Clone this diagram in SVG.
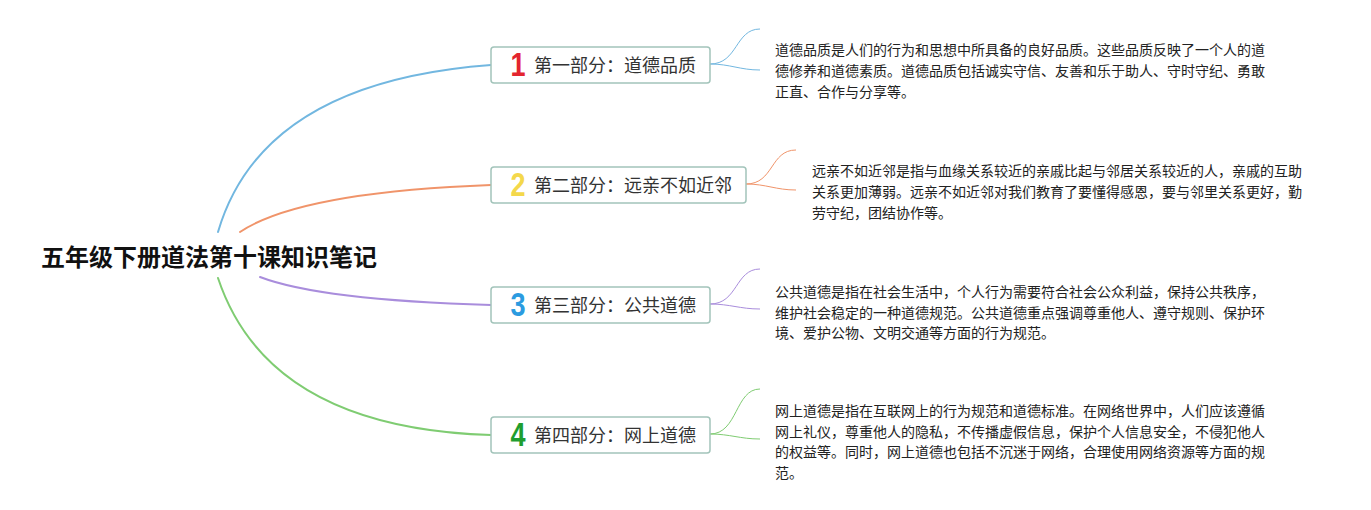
<svg xmlns="http://www.w3.org/2000/svg" width="1371" height="510" viewBox="0 0 1371 510">
<style>
.root{font-family:"Noto Sans CJK SC","Noto Sans",sans-serif;font-weight:700;font-size:24px;fill:#111}
.box{fill:#fff;stroke:#a2c4ba;stroke-width:1.5}
.lbl{font-family:"Noto Sans CJK SC","Noto Sans",sans-serif;font-size:18px;fill:#333}
.num{font-family:"Liberation Sans",Arial,sans-serif;font-weight:700;font-size:33px;text-anchor:middle}
.desc{font-family:"Noto Sans CJK SC","Noto Sans",sans-serif;font-size:14px;fill:#222}
.main{fill:none;stroke-width:2;stroke-linecap:round}
.thin{fill:none;stroke-width:1}
</style>
<rect width="1371" height="510" fill="#fff"/>
<g id="connectors">
<path class="main" stroke="#72b7e0" d="M218,232 Q262,82 491,65"/>
<path class="main" stroke="#f0946a" d="M240,232 Q300,192 491,185"/>
<path class="main" stroke="#a98ddc" d="M260,277 Q320,300 491,305"/>
<path class="main" stroke="#7fcc72" d="M218,278 Q268,428 491,435"/>
<path class="thin" stroke="#72b7e0" d="M710,64 C738,64 735,29 760,29"/>
<path class="thin" stroke="#72b7e0" d="M710,64 C730,64 740,70 760,70"/>
<path class="thin" stroke="#f0946a" d="M746,184 C774,184 770,150 796,150"/>
<path class="thin" stroke="#f0946a" d="M746,184 C766,184 776,190 796,190"/>
<path class="thin" stroke="#a98ddc" d="M710,304 C738,304 735,269 760,269"/>
<path class="thin" stroke="#a98ddc" d="M710,304 C730,304 740,309 760,309"/>
<path class="thin" stroke="#7fcc72" d="M710,434 C738,434 735,389 760,389"/>
<path class="thin" stroke="#7fcc72" d="M710,434 C730,434 740,439 760,439"/>
</g>
<g id="root"><text class="root" x="41" y="266">五年级下册道法第十课知识笔记</text></g>
<g id="node1">
<rect class="box" x="491" y="47" width="219" height="36" rx="3"/>
<text class="num" fill="#e3252f" transform="translate(518,76) scale(0.82,1)">1</text>
<text class="lbl" x="534" y="71.5">第一部分：道德品质</text>
</g>
<g id="node2">
<rect class="box" x="491" y="167" width="255" height="36" rx="3"/>
<text class="num" fill="#f4d84b" transform="translate(518,196) scale(0.82,1)">2</text>
<text class="lbl" x="534" y="191.5">第二部分：远亲不如近邻</text>
</g>
<g id="node3">
<rect class="box" x="491" y="287" width="219" height="36" rx="3"/>
<text class="num" fill="#2b9be0" transform="translate(518,316) scale(0.82,1)">3</text>
<text class="lbl" x="534" y="311.5">第三部分：公共道德</text>
</g>
<g id="node4">
<rect class="box" x="491" y="417" width="219" height="36" rx="3"/>
<text class="num" fill="#1f9e2f" transform="translate(518,446) scale(0.82,1)">4</text>
<text class="lbl" x="534" y="441.5">第四部分：网上道德</text>
</g>
<g id="desc1">
<text class="desc" x="775" y="55">道德品质是人们的行为和思想中所具备的良好品质。这些品质反映了一个人的道</text>
<text class="desc" x="775" y="76">德修养和道德素质。道德品质包括诚实守信、友善和乐于助人、守时守纪、勇敢</text>
<text class="desc" x="775" y="97">正直、合作与分享等。</text>
</g>
<g id="desc2">
<text class="desc" x="812" y="176">远亲不如近邻是指与血缘关系较近的亲戚比起与邻居关系较近的人，亲戚的互助</text>
<text class="desc" x="812" y="197">关系更加薄弱。远亲不如近邻对我们教育了要懂得感恩，要与邻里关系更好，勤</text>
<text class="desc" x="812" y="218">劳守纪，团结协作等。</text>
</g>
<g id="desc3">
<text class="desc" x="775" y="297">公共道德是指在社会生活中，个人行为需要符合社会公众利益，保持公共秩序，</text>
<text class="desc" x="775" y="317.5">维护社会稳定的一种道德规范。公共道德重点强调尊重他人、遵守规则、保护环</text>
<text class="desc" x="775" y="338">境、爱护公物、文明交通等方面的行为规范。</text>
</g>
<g id="desc4">
<text class="desc" x="775" y="416">网上道德是指在互联网上的行为规范和道德标准。在网络世界中，人们应该遵循</text>
<text class="desc" x="775" y="436.5">网上礼仪，尊重他人的隐私，不传播虚假信息，保护个人信息安全，不侵犯他人</text>
<text class="desc" x="775" y="457">的权益等。同时，网上道德也包括不沉迷于网络，合理使用网络资源等方面的规</text>
<text class="desc" x="775" y="477.5">范。</text>
</g>
</svg>
